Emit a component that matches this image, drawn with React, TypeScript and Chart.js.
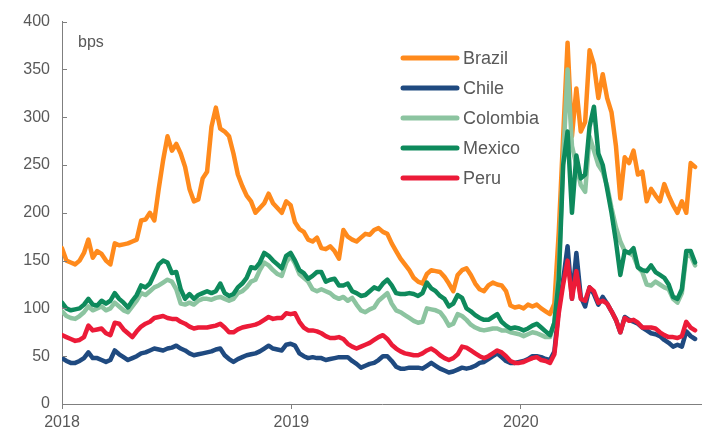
import React, { useEffect, useRef } from "react";
import { Chart, registerables } from "chart.js";

Chart.register(...registerables);

// ---- data (weekly observations from the first week of 2018) ----
const START_YEAR = 2018;
const X_MAX_YEAR = 2020.79;
const xTickYears = [2018, 2019, 2020];
const xTickLabels = ["2018", "2019", "2020"];
const yTickValues = [0, 50, 100, 150, 200, 250, 300, 350, 400];
const unitLabel = "bps";
const seriesNames = ["Brazil", "Chile", "Colombia", "Mexico", "Peru"];

const brazil = [
  163, 150, 148, 146, 150, 158, 172, 153, 160, 157,
  150, 146, 168, 166, 167, 168, 170, 172, 192, 193,
  200, 192, 225, 255, 280, 265, 272, 262, 248, 225,
  212, 214, 236, 243, 290, 310, 288, 285, 280, 262,
  240, 228, 218, 212, 200, 205, 210, 220, 210, 205,
  200, 212, 208, 190, 183, 180, 172, 170, 174, 163,
  162, 165, 160, 152, 182, 175, 172, 170, 174, 178,
  177, 182, 184, 180, 178, 168, 160, 152, 146, 140,
  132, 128, 126, 136, 140, 139, 138, 133, 126, 118,
  135, 140, 142, 135, 126, 120, 118, 124, 127, 125,
  124, 118, 103, 101, 102, 100, 104, 102, 104, 100,
  97, 94, 105, 180, 280, 378, 280, 330, 285, 295,
  370, 355, 320, 345, 320, 305, 270, 215, 258, 252,
  265, 240, 243, 212, 225, 218, 212, 230, 218, 208,
  200, 212, 200, 252, 248,
];

const chile = [
  48, 45, 43, 43, 45, 48, 54, 48, 48, 46,
  44, 46, 56, 52, 49, 46, 48, 50, 53, 54,
  56, 58, 57, 56, 58, 59, 61, 58, 56, 53,
  51, 52, 53, 54, 55, 57, 58, 51, 47, 44,
  47, 49, 51, 52, 53, 55, 58, 61, 58, 57,
  56, 62, 63, 61, 53, 50, 48, 49, 48, 48,
  46, 47, 48, 49, 49, 49, 45, 42, 38, 40,
  42, 43, 46, 50, 50, 45, 39, 37, 37, 38,
  38, 38, 37, 40, 43, 40, 37, 35, 33, 34,
  36, 38, 37, 38, 40, 43, 44, 47, 50, 53,
  49, 45, 43, 43, 44, 45, 47, 50, 50, 49,
  47, 46, 55, 100, 130, 165, 110, 158, 112, 102,
  122, 115, 104, 112, 105, 97, 88, 75, 91, 88,
  86, 84, 80, 77, 74, 73, 71, 67, 64, 60,
  62, 60, 76, 71, 68,
];

const colombia = [
  97, 92, 90, 89, 92, 96, 102, 98, 100, 102,
  98, 100, 106, 102, 98, 96, 102, 108, 116, 114,
  118, 122, 124, 127, 130, 128, 120, 105, 104, 106,
  104, 108, 110, 110, 109, 111, 112, 110, 108, 110,
  116, 118, 122, 128, 130, 140, 148, 145, 140, 136,
  134, 148, 155, 147, 136, 132, 128, 120, 118, 120,
  118, 116, 112, 110, 112, 108, 111, 104, 98, 96,
  99, 101, 108, 112, 116, 105, 98, 96, 93, 90,
  87, 85, 86, 100, 99, 98, 96, 90, 82, 84,
  94, 92, 88, 83, 80, 78, 77, 78, 79, 79,
  77, 77, 75, 74, 73, 71, 73, 75, 74, 72,
  70, 70, 85, 140, 255, 350, 270, 250, 229, 222,
  280, 265, 250, 243, 228, 205, 185, 170, 160, 158,
  155, 143, 138, 125, 124, 128, 125, 122, 120, 110,
  106, 116, 155, 155, 145,
];

const mexico = [
  106, 100, 98, 99, 100, 104, 110, 104, 103, 108,
  105, 108, 116, 110, 106, 101, 108, 114, 124, 122,
  126, 136, 146, 150, 148, 137, 138, 120, 110, 115,
  110, 114, 116, 118, 116, 118, 126, 116, 113, 115,
  122, 126, 132, 143, 142, 148, 158, 155, 150, 146,
  142, 155, 158, 150, 140, 137, 131, 134, 138, 138,
  128, 130, 131, 124, 124, 126, 118, 116, 113, 114,
  118, 122, 120, 126, 130, 124, 116, 115, 115, 116,
  115, 113, 116, 127, 121, 118, 113, 110, 102, 105,
  114, 111, 100, 97, 93, 90, 88, 88, 91, 94,
  86, 82, 79, 80, 79, 77, 79, 82, 84, 80,
  76, 72, 85, 130, 250, 285, 200, 260, 236, 240,
  290, 311, 262, 250, 225, 200, 170, 135, 160, 158,
  163, 143, 140, 139, 145, 138, 135, 132, 125, 112,
  110, 120, 160, 160, 148,
];

const peru = [
  72, 70, 68, 66, 67, 70, 82, 77, 78, 79,
  74, 72, 85, 84, 78, 74, 70, 76, 81, 84,
  86, 90, 91, 92, 90, 89, 89, 86, 84, 81,
  79, 80, 80, 80, 81, 82, 84, 80, 75, 75,
  78, 80, 81, 82, 83, 85, 88, 91, 89, 90,
  90, 95, 94, 95, 86, 80, 77, 77, 76, 74,
  71, 69, 69, 70, 68, 63, 60, 58, 60, 62,
  64, 67, 70, 72, 68, 62, 58, 55, 53, 52,
  51, 51, 53, 56, 58, 55, 51, 48, 46, 48,
  52, 60, 59, 56, 53, 50, 48, 50, 53, 56,
  54, 50, 45, 43, 43, 44, 46, 48, 49, 46,
  45, 43, 52, 95, 125, 150, 110, 139, 110, 108,
  122, 118, 106, 108, 105, 97, 88, 75, 90, 87,
  88, 85, 80, 80, 80, 79, 75, 72, 70, 70,
  69, 71, 86, 80, 77,
];

const seriesValues = [brazil, chile, colombia, mexico, peru];
const seriesColors = ["#FF8A1C", "#1F4A80", "#8CC4A0", "#0E8A5C", "#EC1B38"];

// ---- styles ----
const FONT = '"Liberation Sans", Arial, sans-serif';
const TEXT_COLOR = "#595959";
const AXIS_COLOR = "#7F7F7F";

const weekToYear = (i: number) => START_YEAR + (i * 7) / 365.25;

const overlayPlugin = {
  id: "overlay",
  afterDraw(chart: any) {
    const ctx = chart.ctx as CanvasRenderingContext2D;
    const xs = chart.scales.x;
    const ys = chart.scales.y;
    ctx.save();
    // inward y-axis ticks
    ctx.strokeStyle = AXIS_COLOR;
    ctx.lineWidth = 1;
    yTickValues.forEach((v) => {
      const py = Math.round(ys.getPixelForValue(v)) + 0.5;
      ctx.beginPath();
      ctx.moveTo(xs.left, py);
      ctx.lineTo(xs.left + 5, py);
      ctx.stroke();
    });
    // unit label
    ctx.fillStyle = TEXT_COLOR;
    ctx.font = `16px ${FONT}`;
    ctx.textAlign = "left";
    ctx.textBaseline = "middle";
    ctx.fillText(unitLabel, xs.left + 16, ys.top + 21);
    // legend
    const lx0 = 403;
    const lx1 = 457;
    const ly0 = 58;
    const step = 30;
    ctx.font = `18px ${FONT}`;
    seriesNames.forEach((name, k) => {
      const yy = ly0 + k * step;
      ctx.strokeStyle = seriesColors[k];
      ctx.lineWidth = 5;
      ctx.lineCap = "round";
      ctx.beginPath();
      ctx.moveTo(lx0, yy);
      ctx.lineTo(lx1, yy);
      ctx.stroke();
      ctx.fillStyle = TEXT_COLOR;
      ctx.fillText(name, lx1 + 6, yy + 1);
    });
    ctx.restore();
  },
};

export default function App() {
  const canvasRef = useRef<HTMLCanvasElement | null>(null);

  useEffect(() => {
    const canvas = canvasRef.current;
    if (!canvas) return;
    const drawOrder = [4, 3, 2, 1, 0]; // Peru on top, Brazil at the bottom
    const datasets = seriesNames.map((name, k) => ({
      label: name,
      data: seriesValues[k].map((v, i) => ({ x: weekToYear(i), y: v })),
      borderColor: seriesColors[k],
      backgroundColor: seriesColors[k],
      borderWidth: 4.5,
      pointRadius: 0,
      tension: 0,
      borderJoinStyle: "round" as const,
      borderCapStyle: "round" as const,
      order: drawOrder[k],
    }));

    const chart = new Chart(canvas, {
      type: "line",
      data: { datasets },
      options: {
        animation: false,
        responsive: false,
        maintainAspectRatio: false,
        layout: { padding: { top: 19, left: 0, right: 0, bottom: 0 } },
        plugins: {
          legend: { display: false },
          tooltip: { enabled: false },
          title: { display: false },
        },
        scales: {
          x: {
            type: "linear",
            min: START_YEAR,
            max: X_MAX_YEAR,
            afterBuildTicks: (scale: any) => {
              scale.ticks = xTickYears.map((v) => ({ value: v }));
            },
            afterFit: (scale: any) => {
              scale.height = 37;
            },
            grid: {
              display: true,
              drawOnChartArea: false,
              drawTicks: true,
              tickLength: 5,
              color: AXIS_COLOR,
            },
            border: { display: true, color: AXIS_COLOR, width: 1 },
            ticks: {
              color: TEXT_COLOR,
              font: { size: 16, family: FONT },
              padding: 4,
              maxRotation: 0,
              callback: (value: any) => {
                const idx = xTickYears.indexOf(Math.round(Number(value)));
                return idx >= 0 ? xTickLabels[idx] : "";
              },
            },
          },
          y: {
            type: "linear",
            min: 0,
            max: 400,
            afterFit: (scale: any) => {
              scale.width = 62;
            },
            grid: { display: false, drawTicks: false },
            border: { display: true, color: AXIS_COLOR, width: 1 },
            ticks: {
              stepSize: 50,
              color: TEXT_COLOR,
              font: { size: 16, family: FONT },
              padding: 12,
            },
          },
        },
      },
      plugins: [overlayPlugin],
    });
    return () => chart.destroy();
  }, []);

  return (
    <div style={{ position: "fixed", left: 0, top: 0, width: 702, height: 441, background: "#fff" }}>
      <canvas ref={canvasRef} width={702} height={441} style={{ display: "block", width: 702, height: 441 }} />
    </div>
  );
}
